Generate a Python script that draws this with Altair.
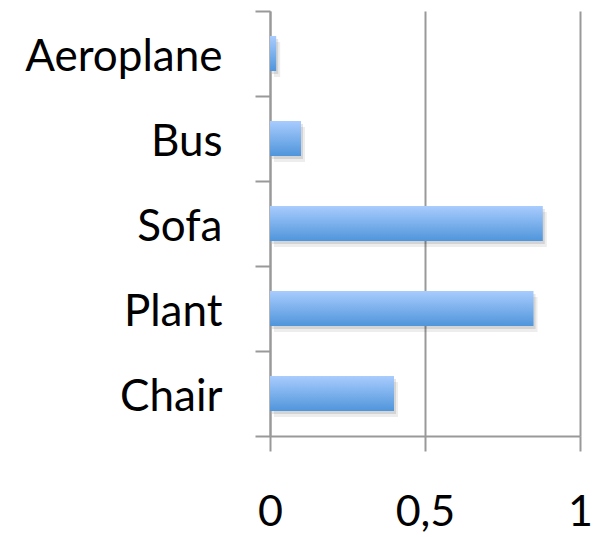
import altair as alt
import pandas as pd

categories = ["Aeroplane", "Bus", "Sofa", "Plant", "Chair"]
values = [0.02, 0.10, 0.88, 0.85, 0.40]
x_ticks = [0, 0.5, 1]

df = pd.DataFrame({"category": categories, "value": values})

GREY = "#999999"
FONT = "Lato"

bar_fill = alt.Gradient(
    gradient="linear",
    stops=[
        alt.GradientStop(color="#a9ccfe", offset=0),
        alt.GradientStop(color="#4f95db", offset=1),
    ],
    x1=0, x2=0, y1=0, y2=1,
)

x_enc = alt.X(
    "value:Q",
    scale=alt.Scale(domain=[0, 1], nice=False, zero=True),
    axis=alt.Axis(
        title=None,
        values=x_ticks,
        format="~g",
        labelExpr="replace(datum.label, '.', ',')",
        labelFlush=False,
        labelOverlap=False,
        grid=True,
        gridColor=GREY,
        gridWidth=2,
        domainColor=GREY,
        domainWidth=2,
        tickColor=GREY,
        tickWidth=2,
        tickSize=15,
        labelPadding=40,
        labelFont=FONT,
        labelFontSize=43,
        labelColor="black",
    ),
)
y_enc = alt.Y(
    "category:N",
    sort=categories,
    scale=alt.Scale(paddingInner=0, paddingOuter=0),
    axis=alt.Axis(
        title=None,
        grid=False,
        tickBand="extent",
        domainColor=GREY,
        domainWidth=2,
        tickColor=GREY,
        tickWidth=2,
        tickSize=15,
        labelPadding=33,
        labelOffset=4,
        labelLimit=0,
        labelFont=FONT,
        labelFontSize=44,
        labelColor="black",
    ),
)

# soft drop shadow under each bar
shadow_far = alt.Chart(df).mark_bar(
    size=35, color="#000000", opacity=0.07, xOffset=4, yOffset=6
).encode(x=x_enc, y=y_enc)
shadow_near = alt.Chart(df).mark_bar(
    size=35, color="#000000", opacity=0.10, xOffset=2, yOffset=3
).encode(x=x_enc, y=y_enc)

bars = alt.Chart(df).mark_bar(size=35, color=bar_fill).encode(x=x_enc, y=y_enc)

chart = (
    alt.layer(shadow_far, shadow_near, bars)
    .properties(
        width=310,
        height=425,
        autosize=alt.AutoSizeParams(type="none"),
        padding={"left": 270, "top": 11, "right": 19, "bottom": 101},
        background="white",
    )
    .configure_view(stroke=None)
)

chart.save("out.html", embed_options={"renderer": "svg", "actions": False})
